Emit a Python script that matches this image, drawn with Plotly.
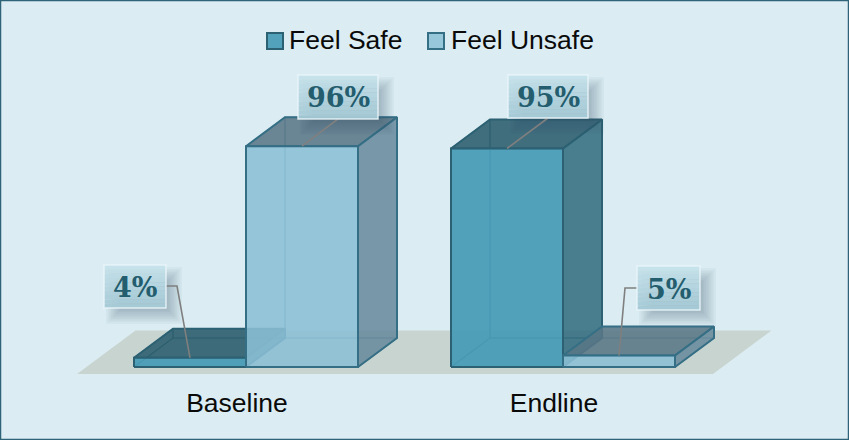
import plotly.graph_objects as go

categories = ["Baseline", "Endline"]
series_names = ["Feel Safe", "Feel Unsafe"]
feel_safe = [4, 95]
feel_unsafe = [96, 5]

W, H = 849, 440
PLOT_BOTTOM = 384
PX_PER_CAT = 317
PX_PER_VAL = 2.3
CAT0_PX = 237
ZERO_PX = 367
SHIFT = 9 / PX_PER_CAT
BAR_W = 112 / PX_PER_CAT
DX = 39 / PX_PER_CAT
DY = 29 / PX_PER_VAL

STYLES = {
    "Feel Safe": dict(front="rgba(72,155,182,0.92)", side="rgba(45,105,125,0.82)",
                      top="rgba(42,92,108,0.86)", back="rgba(45,105,125,0.12)", line="#2c6173",
                      inner="rgba(44,97,115,0.6)"),
    "Feel Unsafe": dict(front="rgba(140,192,214,0.86)", side="rgba(100,135,155,0.82)",
                        top="rgba(88,118,133,0.85)", back="rgba(120,160,180,0.12)", line="#356f85",
                        inner="rgba(53,111,133,0.45)"),
}

xaxis_range = [(0 - CAT0_PX) / PX_PER_CAT, (W - CAT0_PX) / PX_PER_CAT]
yaxis_range = [(ZERO_PX - PLOT_BOTTOM) / PX_PER_VAL, ZERO_PX / PX_PER_VAL]

fig = go.Figure()


def face(xs, ys, fill, line, width=2):
    fig.add_trace(go.Scatter(x=xs + xs[:1], y=ys + ys[:1], mode="lines", fill="toself",
                             fillcolor=fill, line=dict(color=line, width=width),
                             hoverinfo="skip", showlegend=False))


# floor
fl = SHIFT + (-BAR_W) - 57 / PX_PER_CAT
fr = SHIFT + 1 + BAR_W + 38 / PX_PER_CAT
fb = -7 / PX_PER_VAL
fig.add_trace(go.Scatter(
    x=[fl, fr, fr + 1.5 * DX, fl + 1.5 * DX, fl],
    y=[fb, fb, fb + 1.5 * DY, fb + 1.5 * DY, fb],
    mode="lines", fill="toself", fillcolor="#c8d4d0", line=dict(width=0),
    hoverinfo="skip", showlegend=False))


def bar3d(cat_i, offset_sign, v, st):
    x0 = cat_i + SHIFT if offset_sign > 0 else cat_i + SHIFT - BAR_W
    x1 = x0 + BAR_W
    line = st["line"]
    inner = st["inner"]
    face([x0 + DX, x1 + DX, x1 + DX, x0 + DX], [DY, DY, v + DY, v + DY], st["back"], inner, 1.2)
    face([x0, x1, x1 + DX, x0 + DX], [0, 0, DY, DY], st["back"], inner, 1.2)
    face([x0, x0 + DX, x0 + DX, x0], [0, DY, v + DY, v], st["back"], inner, 1.2)
    face([x0, x1, x1 + DX, x0 + DX], [v, v, v + DY, v + DY], st["top"], line)
    face([x1, x1 + DX, x1 + DX, x1], [0, DY, v + DY, v], st["side"], line)
    face([x0, x1, x1, x0], [0, 0, v, v], st["front"], line)


for i in range(len(categories)):
    bar3d(i, -1, feel_safe[i], STYLES["Feel Safe"])
    bar3d(i, 1, feel_unsafe[i], STYLES["Feel Unsafe"])

shapes = []


def px(x):
    return x / W


def py(y):
    return 1 - y / PLOT_BOTTOM


def rect(x0, y0, x1, y1, fill, line=None, lw=0):
    shapes.append(dict(type="rect", xref="paper", yref="paper", x0=px(x0), x1=px(x1),
                       y0=py(y1), y1=py(y0), fillcolor=fill,
                       line=dict(color=line or "rgba(0,0,0,0)", width=lw), layer="above"))


def data_to_px(x, v):
    return CAT0_PX + x * PX_PER_CAT, ZERO_PX - v * PX_PER_VAL


labels = [
    (0, -1, feel_safe[0], (104, 265, 166, 308), [(166, 286), (177, 286)]),
    (0, 1, feel_unsafe[0], (298, 75, 378, 119), [(338, 119)]),
    (1, -1, feel_safe[1], (508, 75, 588, 118), [(548, 118)]),
    (1, 1, feel_unsafe[1], (637, 266, 700, 310), [(637, 288), (625, 288)]),
]

annotations = []
for cat, sign, v, box, pts in labels:
    x0, y0, x1, y1 = box
    # soft shadow
    for k in range(9):
        e = 7 - 1.7 * k
        rect(x0 + 9 - e, y0 + 9 - e, x1 + 9 + e, y1 + 9 + e, "rgba(60,85,98,0.04)")
    cx = cat + SHIFT + (BAR_W / 2 if sign > 0 else -BAR_W / 2)
    ax, ay = data_to_px(cx, v)
    path = pts + [(ax, ay)]
    d = "M" + " L".join(f"{px(a):.5f},{py(b):.5f}" for a, b in path)
    shapes.append(dict(type="path", xref="paper", yref="paper", path=d,
                       line=dict(color="#7f7f7f", width=1.6), layer="above"))
    # gradient box
    n = 10
    for k in range(n):
        t = k / (n - 1)
        c = (int(197 - 32 * t), int(225 - 23 * t), int(234 - 20 * t))
        ya = y0 + (y1 - y0) * k / n
        yb = y0 + (y1 - y0) * (k + 1) / n
        rect(x0, ya, x1, yb, f"rgba({c[0]},{c[1]},{c[2]},0.95)")
    rect(x0, y0, x1, y1, "rgba(0,0,0,0)", "rgba(235,246,250,0.85)", 1.5)
    annotations.append(dict(xref="paper", yref="paper", x=px((x0 + x1) / 2), y=py((y0 + y1) / 2 + 1),
                            text=f"<b>{v}%</b>", showarrow=False, xanchor="center", yanchor="middle",
                            font=dict(family="DejaVu Serif", size=27, color="#235d6e")))

# legend
legend_items = [(267, 287, series_names[0], STYLES["Feel Safe"]), (428, 449, series_names[1], STYLES["Feel Unsafe"])]
for sx, tx, name, st in legend_items:
    rect(sx, 33, sx + 16, 49, st["front"], st["line"], 2)
    annotations.append(dict(xref="paper", yref="paper", x=px(tx), y=py(40), text=name, showarrow=False,
                            xanchor="left", yanchor="middle",
                            font=dict(family="Liberation Sans", size=26.5, color="#0a0a0a")))

# chart border
rect(0.5, 0.5, W - 0.5, H - 0.5, "rgba(0,0,0,0)", "#2f6478", 1.5)

fig.update_layout(
    width=W, height=H, margin=dict(l=0, r=0, t=0, b=H - PLOT_BOTTOM, autoexpand=False),
    paper_bgcolor="#dbedf3", plot_bgcolor="rgba(0,0,0,0)", showlegend=False,
    shapes=shapes, annotations=annotations,
    xaxis=dict(range=xaxis_range, tickmode="array", tickvals=[0, 1], ticktext=categories,
               showgrid=False, zeroline=False, showline=False, ticks="", ticklen=0,
               tickfont=dict(family="Liberation Sans", size=26.5, color="#0a0a0a"),
               automargin=False, fixedrange=True),
    yaxis=dict(range=yaxis_range, visible=False, fixedrange=True),
)

fig.write_html("out.html", config=dict(displayModeBar=False),
               post_script="document.body.style.margin='0';document.documentElement.style.overflow='hidden';")
